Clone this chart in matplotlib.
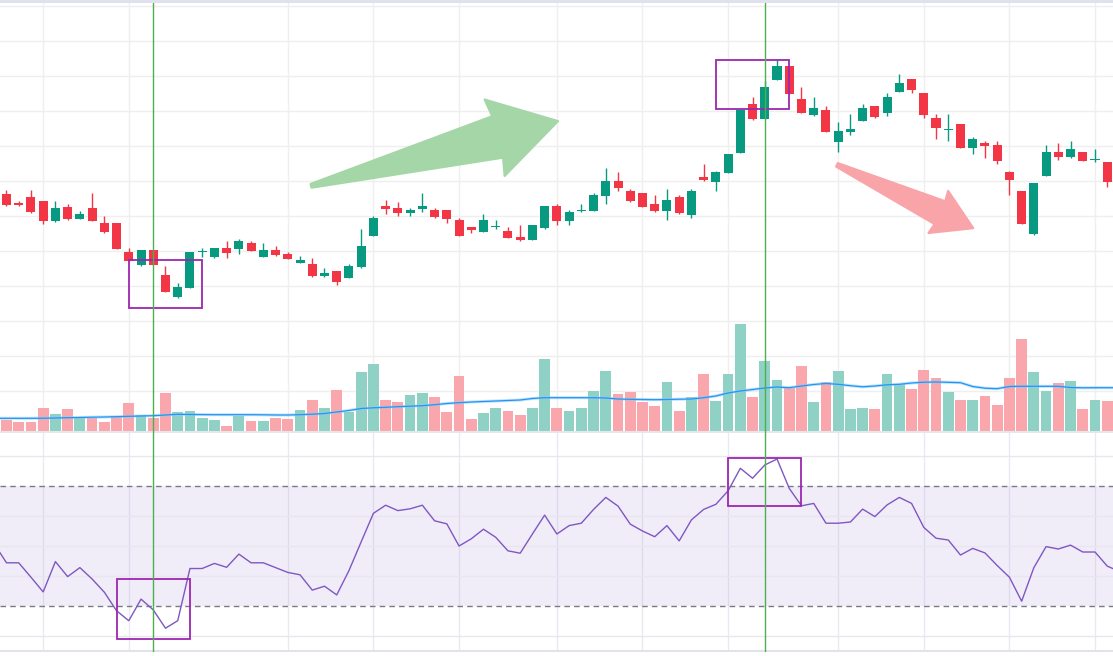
import numpy as np
import matplotlib
matplotlib.use('Agg')
import matplotlib.pyplot as plt
from matplotlib.patches import Rectangle, Polygon

# Daily candles
opens = [216.4, 213.9, 215.5, 214.4, 208.7, 212.7, 209.2, 212.4, 208.1, 208.1,
         199.8, 196.1, 200.4, 193.2, 186.9, 189.5, 199.8, 198.4, 200.9, 200.7,
         202.4, 198.4, 200.4, 199.2, 196.7, 196.4, 192.9, 194.4, 192.4, 195.5,
         204.4, 212.9, 212.4, 210.9, 212.1, 211.8, 211.8, 208.9, 206.9, 205.5,
         206.9, 205.8, 204.1, 203.2, 206.7, 212.9, 208.7, 211.5, 211.5, 215.8,
         220.1, 217.2, 216.7, 213.5, 211.5, 215.5, 210.4, 221.2, 219.8, 222.4,
         228.1, 242.1, 237.8, 248.9, 252.9, 243.5, 238.9, 240.4, 231.2, 234.1,
         237.2, 241.5, 239.5, 245.5, 249.2, 245.2, 238.1, 234.7, 236.4, 229.5,
         230.9, 230.4, 222.7, 217.2, 204.9, 221.5, 228.4, 226.9, 228.4, 226.1,
         225.5]
highs = [217.5, 214.4, 217.5, 214.5, 214.4, 213.5, 211.5, 216.7, 210.1, 208.2,
         200.9, 200.5, 200.5, 195.8, 190.9, 199.9, 200.9, 201.0, 202.9, 203.5,
         202.9, 202.4, 201.5, 199.8, 198.7, 198.1, 195.2, 194.5, 196.4, 206.4,
         210.1, 214.7, 214.1, 212.4, 216.7, 212.4, 211.9, 209.5, 207.0, 210.7,
         208.9, 206.9, 207.5, 207.6, 213.0, 213.5, 211.8, 213.5, 216.7, 223.8,
         222.7, 217.8, 216.8, 216.1, 217.8, 216.1, 217.8, 224.9, 222.8, 227.9,
         240.5, 244.1, 248.7, 254.7, 253.0, 246.9, 244.1, 241.5, 236.9, 239.2,
         242.1, 241.6, 245.2, 250.7, 249.3, 245.3, 239.2, 239.2, 236.5, 232.7,
         231.5, 231.5, 222.8, 217.3, 219.6, 230.4, 230.9, 231.5, 228.5, 229.2,
         225.6]
lows = [213.0, 213.0, 211.0, 207.8, 208.4, 209.0, 209.1, 208.6, 205.2, 200.6,
        197.1, 195.8, 196.0, 188.3, 186.8, 189.4, 198.4, 198.1, 198.1, 199.2,
        200.0, 198.3, 198.8, 197.7, 196.6, 192.8, 192.8, 190.4, 192.3, 195.2,
        204.3, 210.7, 210.1, 210.1, 211.2, 209.5, 208.1, 204.3, 205.2, 205.4,
        206.4, 203.7, 202.9, 203.1, 206.4, 207.5, 207.5, 211.2, 211.4, 213.5,
        217.2, 214.1, 212.6, 211.2, 208.9, 210.8, 209.5, 220.1, 217.2, 222.3,
        228.0, 237.5, 237.7, 248.8, 244.8, 239.4, 238.7, 234.0, 228.4, 233.2,
        237.1, 238.1, 238.7, 245.4, 245.2, 238.1, 232.1, 231.5, 229.4, 227.8,
        226.7, 224.9, 216.1, 207.7, 204.8, 221.4, 226.1, 226.7, 225.7, 225.5,
        218.4]
closes = [213.2, 213.2, 211.2, 208.7, 212.4, 209.2, 210.7, 208.7, 205.5, 200.7,
          197.2, 200.4, 196.1, 188.4, 189.8, 199.8, 199.9, 200.9, 199.5, 202.9,
          200.1, 200.4, 198.9, 197.8, 197.5, 192.9, 193.8, 191.2, 195.8, 201.5,
          209.5, 212.1, 210.9, 211.8, 212.9, 209.8, 209.2, 204.4, 206.1, 208.9,
          207.0, 203.8, 203.2, 207.5, 212.9, 208.7, 211.2, 211.8, 216.1, 220.1,
          218.1, 214.4, 212.7, 211.5, 214.7, 210.9, 217.2, 220.4, 222.7, 227.8,
          240.4, 237.8, 246.9, 252.9, 244.9, 239.5, 240.9, 234.1, 234.4, 234.9,
          240.9, 238.4, 244.1, 248.1, 246.1, 238.9, 235.2, 234.9, 229.5, 232.1,
          230.1, 225.8, 220.4, 207.8, 219.5, 228.4, 226.9, 229.2, 225.8, 226.4,
          219.8]
volumes = [11, 9, 9, 23, 17, 22, 13, 13, 9, 15,
           28, 16, 13, 38, 19, 20, 13, 11, 5, 15,
           10, 10, 13, 12, 21, 31, 23, 41, 19, 59,
           67, 31, 29, 36, 38, 34, 19, 55, 12, 18,
           23, 20, 16, 23, 72, 23, 20, 23, 40, 60,
           37, 39, 29, 25, 49, 20, 34, 57, 30, 57,
           107, 34, 70, 51, 43, 65, 29, 49, 60, 22,
           23, 22, 57, 47, 42, 61, 53, 39, 31, 31,
           35, 26, 53, 92, 59, 40, 48, 50, 22, 31,
           30]

# indicator lines run one day past each edge of the view
ind_days = list(range(-1, 92))
volume_ma = [12.7,
             12.7, 12.7, 12.7, 12.8, 13.0, 13.3, 13.5, 13.8, 14.0, 14.3,
             14.7, 15.0, 15.3, 16.0, 16.7, 16.5, 16.4, 16.3, 16.3, 16.3,
             16.3, 16.2, 16.0, 16.0, 16.3, 16.8, 17.5, 19.0, 20.5, 22.5,
             23.2, 23.7, 24.3, 24.8, 25.3, 26.3, 27.5, 28.3, 29.0, 29.5,
             30.0, 30.5, 31.0, 32.5, 33.3, 33.3, 33.3, 33.3, 33.3, 33.0,
             32.0, 31.7, 31.5, 31.3, 31.5, 31.8, 32.0, 33.3, 35.0, 38.0,
             40.0, 41.5, 43.0, 44.0, 43.3, 45.0, 46.5, 47.5, 46.7, 45.3,
             44.2, 45.0, 46.2, 46.7, 48.0, 48.8, 49.0, 48.7, 48.3, 44.5,
             42.8, 42.3, 44.5, 44.7, 44.7, 44.7, 44.7, 43.5, 43.2, 43.3,
             43.3, 43.3]
rsi = [50.7,
       44.4, 44.4, 39.6, 34.7, 44.8, 39.8, 42.8, 39.0, 34.6, 28.4,
       25.1, 32.3, 28.7, 22.6, 25.1, 42.5, 42.5, 44.2, 42.9, 47.3,
       44.4, 44.4, 42.8, 41.2, 40.4, 35.3, 36.6, 33.7, 41.8, 51.4,
       60.9, 63.6, 61.8, 62.4, 63.6, 58.4, 57.4, 50.0, 52.4, 55.6,
       52.9, 48.4, 47.6, 54.0, 60.3, 54.0, 56.8, 57.6, 62.2, 66.2,
       63.3, 57.3, 55.0, 53.1, 56.8, 51.7, 58.7, 62.2, 63.9, 68.4,
       75.9, 72.6, 77.0, 79.0, 69.2, 63.4, 64.2, 57.6, 57.6, 58.0,
       62.3, 59.8, 63.7, 66.2, 64.2, 56.2, 52.6, 52.0, 47.0, 49.2,
       47.7, 43.5, 39.6, 31.6, 42.8, 49.8, 49.0, 50.3, 48.0, 48.0,
       43.3, 41.5]

# annotations, in (day, price) / (day, rsi) units
grid_days = [3, 10, 23, 30, 37, 45, 52, 59, 68, 75, 82, 89]
marked_days = [12, 62]
price_boxes = [(10, 16, 183.7, 197.4), (58, 64, 240.6, 254.6)]
rsi_boxes = [(9, 15, 18.9, 39.1), (59, 65, 63.2, 79.2)]
trend_arrows = [((24.9, 218.7), (45.1, 237.2), '#a5d6a7'),
                ((67.9, 224.7), (79.05, 206.6), '#f8a4a8')]

UP = '#089981'
DOWN = '#f23645'
W, H = 1113, 656

fig = plt.figure(figsize=(W / 100, H / 100), dpi=100)
fig.patch.set_facecolor('white')

ax = fig.add_axes([0, 1 - 433 / H, 1, 430 / H])
ax_rsi = fig.add_axes([0, 1 - 652 / H, 1, 219 / H])
ax_vol = ax.twinx()

days = np.arange(len(opens))
o = np.array(opens)
c = np.array(closes)
is_up = c >= o
colors = np.where(is_up, UP, DOWN)

xlim = (-0.531, 90.47)
for a in (ax, ax_rsi, ax_vol):
    a.set_xlim(*xlim)
    a.set_xticks([])
    a.set_yticks([])
    for s in a.spines.values():
        s.set_visible(False)
    a.patch.set_alpha(0)

ax.set_ylim(148.09, 270.94)
ax_vol.set_ylim(-2, 428)
ax_rsi.set_ylim(14.67, 87.67)

# grid
for d in grid_days:
    ax.axvline(d, color='#efefef', lw=1, zorder=0)
    ax_rsi.axvline(d, color='#ebe9f0', lw=1, zorder=0)
for p in range(160, 271, 10):
    ax.axhline(p, color='#efefef', lw=1, zorder=0)
for r in [20, 40, 50, 60, 80]:
    ax_rsi.axhline(r, color='#e9e6ef', lw=1, zorder=1)

# candles
ax.vlines(days, lows, highs, colors=colors, lw=1, zorder=2)
body = np.maximum(np.abs(c - o), 0.3)
ax.bar(days, body, bottom=np.minimum(o, c), width=0.74, color=colors, lw=0, zorder=3)

# volume
vol_colors = np.where(is_up, '#90d1c6', '#f9a6ac')
ax_vol.bar(days, volumes, width=0.88, color=vol_colors, lw=0, zorder=2)
ax_vol.plot(ind_days, volume_ma, color='#90caf9', lw=2.2, alpha=0.55, zorder=3)
ax_vol.plot(ind_days, volume_ma, color='#2196f3', lw=0.9, zorder=4)
ax_vol.axhline(-1.5, color='#e0e3eb', lw=1.2, zorder=4)

# RSI
ax_rsi.axhspan(30, 70, color='#7e57c2', alpha=0.1, lw=0, zorder=0)
for r in (30, 70):
    ax_rsi.axhline(r, color='#787b86', lw=1, dashes=(4, 3), zorder=2)
ax_rsi.plot(ind_days, rsi, color='#7e57c2', lw=1.0, zorder=3)
ax_rsi.axhline(14.9, color='#e0e3eb', lw=1.5, zorder=4)

# highlight boxes
for a, boxes in ((ax, price_boxes), (ax_rsi, rsi_boxes)):
    for d0, d1, y0, y1 in boxes:
        a.add_patch(Rectangle((d0, y0), d1 - d0, y1 - y0, fill=False,
                              edgecolor='#9c27b0', lw=1.3, zorder=6))

# marked days
for d in marked_days:
    ax_vol.axvline(d, color='#4caf50', lw=1, zorder=7)
    ax_rsi.axvline(d, color='#4caf50', lw=1, zorder=7)

# trend arrows (shape built in pixels, drawn in data coords)
to_px = ax.transData
to_data = ax.transData.inverted()
for start, end, col in trend_arrows:
    p0 = to_px.transform(start)
    p1 = to_px.transform(end)
    L = np.hypot(*(p1 - p0))
    u = (p1 - p0) / L
    n = np.array([-u[1], u[0]])
    neck = p1 - u * 0.245 * L
    base = p1 - u * 0.257 * L
    pts = [p0 + n * 2, neck + n * 0.084 * L, base + n * 0.155 * L, p1,
           base - n * 0.155 * L, neck - n * 0.084 * L, p0 - n * 2]
    ax.add_patch(Polygon(to_data.transform(pts), closed=True, facecolor=col,
                         edgecolor=col, lw=1.5, joinstyle='round', zorder=5))

# top strip
fig.patches.append(Rectangle((0, 1 - 3 / H), 1, 3 / H, transform=fig.transFigure,
                             color='#dfe2ee', lw=0))

fig.savefig('out.png', dpi=100)
